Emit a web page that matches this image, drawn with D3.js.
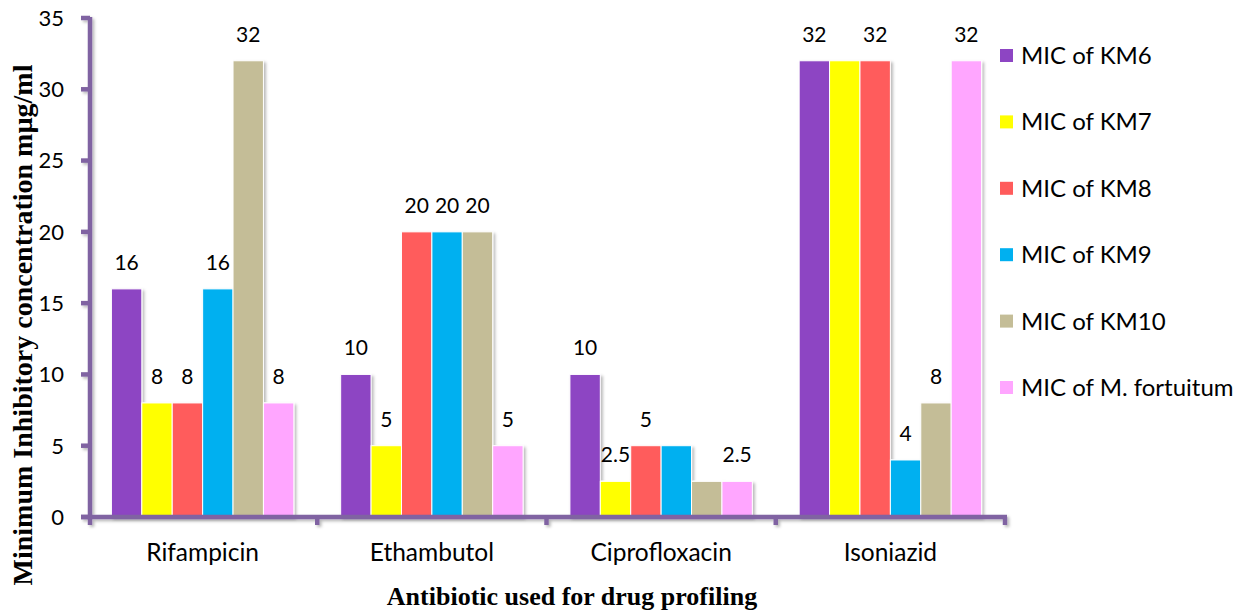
<!DOCTYPE html>
<html>
<head>
<meta charset="utf-8">
<script src="https://cdn.jsdelivr.net/npm/d3@7"></script>
<style>
  html, body { margin: 0; padding: 0; background: #fff; }
  svg { display: block; }
</style>
</head>
<body>
<svg id="chart" width="1250" height="614"></svg>
<script>
// Antibiotics tested
const categories = ["Rifampicin", "Ethambutol", "Ciprofloxacin", "Isoniazid"];

// MIC values (µg/ml) for each isolate, in category order
const seriesNames = ["MIC of KM6", "MIC of KM7", "MIC of KM8", "MIC of KM9", "MIC of KM10", "MIC of M. fortuitum"];
const micKM6  = [16, 10, 10, 32];
const micKM7  = [8, 5, 2.5, 32];
const micKM8  = [8, 20, 5, 32];
const micKM9  = [16, 20, 5, 4];
const micKM10 = [32, 20, 2.5, 8];
const micMF   = [8, 5, 2.5, 32];
const seriesValues = [micKM6, micKM7, micKM8, micKM9, micKM10, micMF];
const seriesColors = ["#8D45C3", "#FFFF00", "#FF5B5B", "#00B0F0", "#C4BD97", "#FFA6FF"];

// Value labels that are left out where they would overlap a neighbour
const hiddenLabels = [["MIC of KM9", "Ciprofloxacin"], ["MIC of KM10", "Ciprofloxacin"], ["MIC of KM7", "Isoniazid"]];

const yTicks = [0, 5, 10, 15, 20, 25, 30, 35];

const svg = d3.select("#chart");
const axisColor = "#8064A2";
const labelFont = "Lato, 'Open Sans', sans-serif";
const titleFont = "'Liberation Serif', 'Times New Roman', serif";

const plot = { left: 90, right: 1005, top: 18, bottom: 517 };

const defs = svg.append("defs");
const shadow = defs.append("filter").attr("id", "shadow")
  .attr("x", "-20%").attr("y", "-20%").attr("width", "150%").attr("height", "150%");
shadow.append("feDropShadow").attr("dx", 2).attr("dy", 2).attr("stdDeviation", 1.6)
  .attr("flood-color", "#000").attr("flood-opacity", 0.28);

const y = d3.scaleLinear().domain([0, 35]).range([plot.bottom, plot.top]);
const x0 = d3.scaleBand().domain(categories).range([plot.left - 2, plot.right]).padding(0);
const x1 = d3.scaleBand().domain(seriesNames).range([0, x0.bandwidth()])
  .paddingInner(0).paddingOuter(0.77);

// Bars
const rows = [];
seriesNames.forEach((s, si) => {
  categories.forEach((c, ci) => {
    rows.push({ series: s, cat: c, value: seriesValues[si][ci], color: seriesColors[si] });
  });
});

svg.append("g").attr("filter", "url(#shadow)")
  .selectAll("rect").data(rows).join("rect")
  .attr("x", d => x0(d.cat) + x1(d.series))
  .attr("y", d => y(d.value))
  .attr("width", x1.bandwidth())
  .attr("height", d => y(0) - y(d.value))
  .attr("fill", d => d.color)
  .attr("stroke", "#fff")
  .attr("stroke-width", 1);

// Value labels
const isHidden = d => hiddenLabels.some(h => h[0] === d.series && h[1] === d.cat);
svg.append("g").selectAll("text").data(rows.filter(d => !isHidden(d))).join("text")
  .attr("x", d => x0(d.cat) + x1(d.series) + x1.bandwidth() / 2)
  .attr("y", d => y(d.value) - 19)
  .attr("text-anchor", "middle")
  .attr("font-family", labelFont)
  .attr("font-size", 21)
  .attr("fill", "#000")
  .text(d => d.value);

// Axes
const axes = svg.append("g").attr("filter", "url(#shadow)")
  .attr("stroke", axisColor).attr("stroke-width", 4.5).attr("fill", "none");

axes.append("line").attr("x1", plot.left).attr("x2", plot.left)
  .attr("y1", y(35) - 1).attr("y2", plot.bottom + 8);
axes.selectAll(".ytick").data(yTicks).join("line").attr("class", "ytick")
  .attr("x1", plot.left - 9).attr("x2", plot.left)
  .attr("y1", d => y(d)).attr("y2", d => y(d));
axes.append("line").attr("x1", plot.left - 9).attr("x2", plot.right + 2)
  .attr("y1", plot.bottom).attr("y2", plot.bottom);
const bounds = categories.map(c => x0(c) + x0.bandwidth());
axes.selectAll(".xtick").data(bounds).join("line").attr("class", "xtick")
  .attr("x1", d => d).attr("x2", d => d)
  .attr("y1", plot.bottom).attr("y2", plot.bottom + 8);

// Y tick labels
svg.append("g").selectAll("text").data(y.ticks(7).filter(t => yTicks.includes(t))).join("text")
  .attr("x", 64)
  .attr("y", d => y(d))
  .attr("dy", "0.36em")
  .attr("text-anchor", "end")
  .attr("font-family", labelFont)
  .attr("font-size", 22)
  .attr("fill", "#000")
  .text(d => d);

// Category labels
svg.append("g").selectAll("text").data(categories).join("text")
  .attr("x", d => x0(d) + x0.bandwidth() / 2)
  .attr("y", 561)
  .attr("text-anchor", "middle")
  .attr("font-family", labelFont)
  .attr("font-size", 24.5)
  .attr("fill", "#000")
  .text(d => d);

// Axis titles
svg.append("text")
  .attr("x", 572).attr("y", 605)
  .attr("text-anchor", "middle")
  .attr("font-family", titleFont)
  .attr("font-weight", "bold")
  .attr("font-size", 26)
  .attr("fill", "#000")
  .text("Antibiotic used for drug profiling");

svg.append("text")
  .attr("transform", "translate(32,325) rotate(-90)")
  .attr("text-anchor", "middle")
  .attr("font-family", titleFont)
  .attr("font-weight", "bold")
  .attr("font-size", 28)
  .attr("fill", "#000")
  .text("Minimum Inhibitory concentration mµg/ml");

// Legend
const legend = svg.append("g");
const legendY = d3.scalePoint().domain(seriesNames).range([56, 388]);
legend.selectAll("rect").data(seriesNames).join("rect")
  .attr("x", 1000).attr("y", d => legendY(d) - 7)
  .attr("width", 13).attr("height", 13)
  .attr("fill", (d, i) => seriesColors[i]);
legend.selectAll("text").data(seriesNames).join("text")
  .attr("x", 1021).attr("y", d => legendY(d) + 8)
  .attr("font-family", labelFont)
  .attr("font-size", 24)
  .attr("fill", "#000")
  .text(d => d);
</script>
</body>
</html>
